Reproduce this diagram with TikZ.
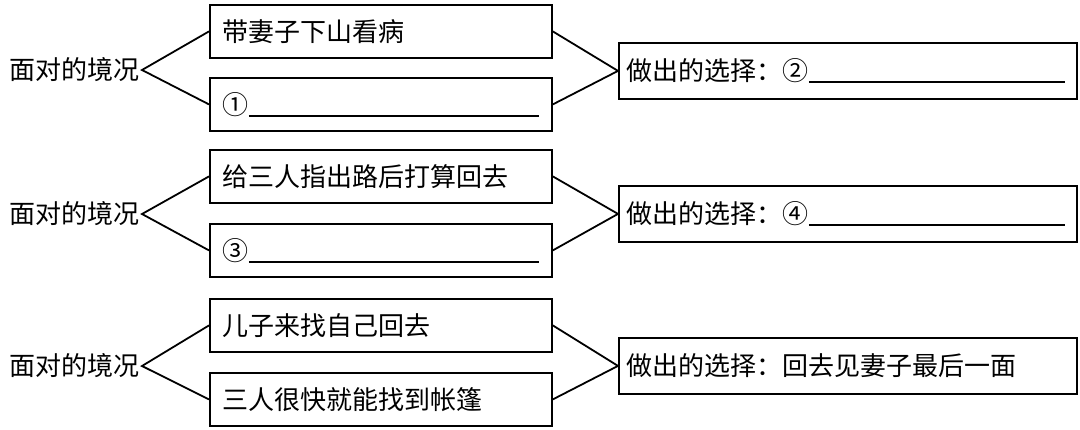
\documentclass[tikz,border=0pt]{standalone}
\usepackage{fontspec}
\newfontfamily\cjk{Noto Sans CJK SC}
\newcommand\blankline[1]{\rule[-1.2pt]{#1}{0.9pt}}
\begin{document}
\begin{tikzpicture}[x=0.5pt,y=-0.5pt,
    every node/.style={font=\cjk\fontsize{13}{15}\selectfont},
    situation/.style={anchor=east,inner sep=1pt},
    cause/.style={draw,line width=0.9pt,anchor=north west,minimum height=26.5pt,
        text width=160pt,inner xsep=5.5pt,align=left},
    choice/.style={draw,line width=0.9pt,anchor=north west,minimum height=28pt,
        text width=221pt,inner xsep=4pt,align=left},
    link/.style={line width=0.9pt}]
    \useasboundingbox (0,0) rectangle (1080,429);

    % first row
    \node[situation] (S1) at (142,70) {面对的境况};
    \node[cause] (A1) at (209,4) {\hspace{1pt}带妻子下山看病};
    \node[cause] (B1) at (209,77) {\hspace{1pt}①\blankline{145pt}};
    \node[choice] (C1) at (618,42) {做出的选择：②\blankline{128pt}};

    % second row
    \node[situation] (S2) at (142,214) {面对的境况};
    \node[cause] (A2) at (209,149) {\hspace{1pt}给三人指出路后打算回去};
    \node[cause] (B2) at (209,223) {\hspace{1pt}③\blankline{145pt}};
    \node[choice] (C2) at (618,185) {做出的选择：④\blankline{128pt}};

    % third row
    \node[situation] (S3) at (142,366) {面对的境况};
    \node[cause] (A3) at (209,298) {\hspace{1pt}儿子来找自己回去};
    \node[cause] (B3) at (209,372) {\hspace{1pt}三人很快就能找到帐篷};
    \node[choice] (C3) at (618,337) {做出的选择：回去见妻子最后一面};

    \foreach \i in {1,2,3} {
        \draw[link] (A\i.west) -- (S\i.east) -- (B\i.west);
        \draw[link] (A\i.east) -- (C\i.west) -- (B\i.east);
    }
\end{tikzpicture}
\end{document}
